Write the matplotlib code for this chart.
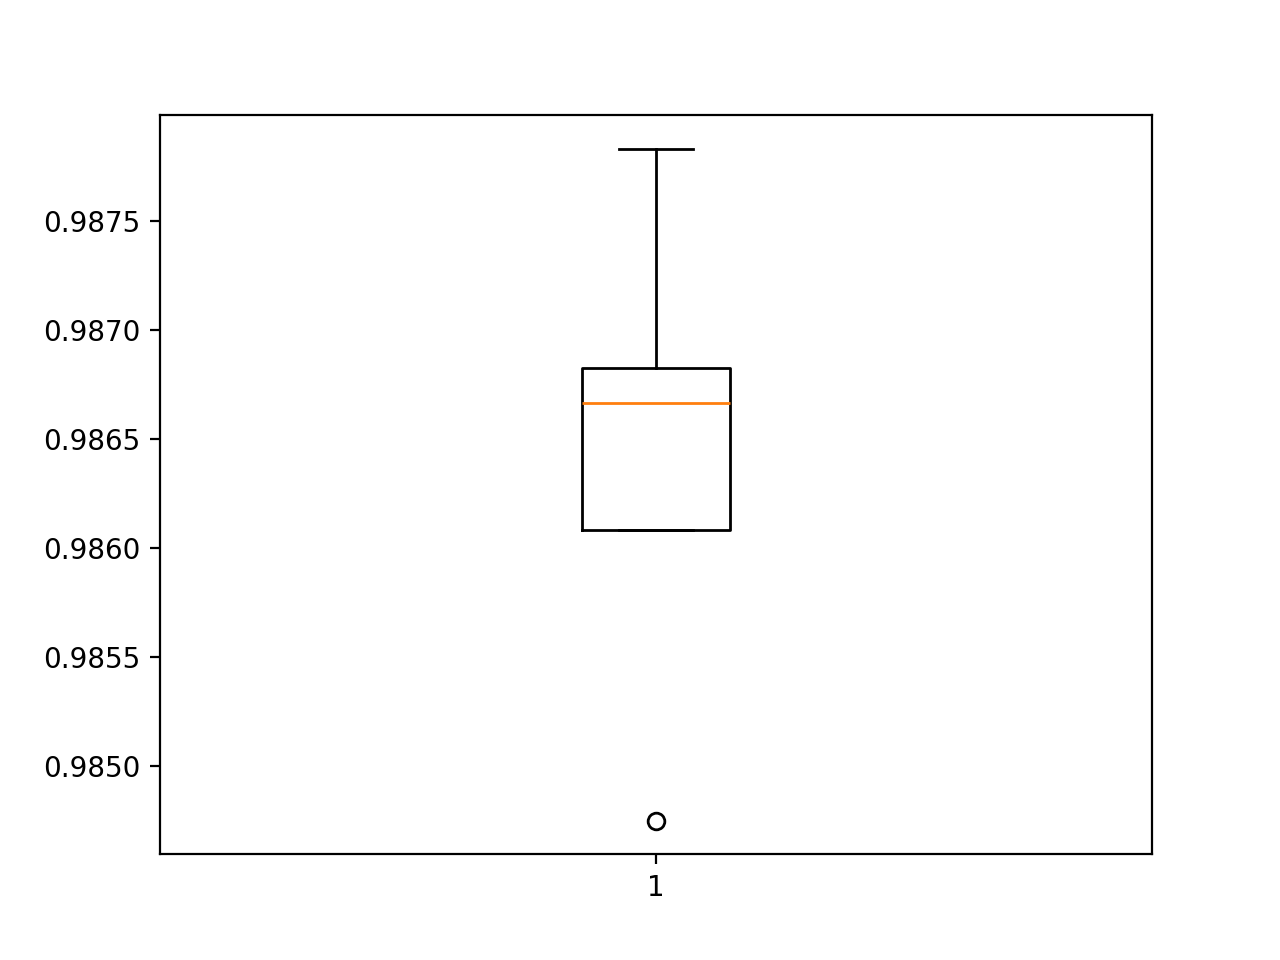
import matplotlib
matplotlib.use("Agg")
import matplotlib.pyplot as plt

# accuracy scores (one per fold)
scores = [0.98475, 0.986085, 0.986665, 0.986826, 0.98783]

fig = plt.figure(figsize=(6.4, 4.8))
plt.boxplot(scores)
plt.savefig("out.png", dpi=200)
